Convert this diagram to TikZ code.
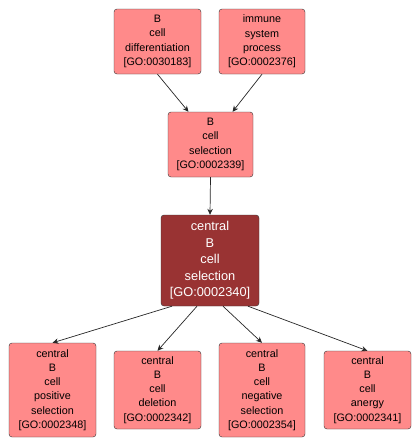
\documentclass[tikz,border=0pt]{standalone}
\usepackage{fontspec}
\setmainfont{Liberation Sans}
\usetikzlibrary{arrows.meta}

\definecolor{termfill}{HTML}{FF8A8A}
\definecolor{focusfill}{HTML}{993333}

\tikzset{
	gonode/.style={draw=black!80, fill=termfill, rounded corners=3pt, align=center, inner sep=0pt,
		font=\fontsize{10.8}{14.2}\selectfont},
	focusnode/.style={gonode, fill=focusfill, text=white, font=\fontsize{12.8}{16.5}\selectfont},
	isa/.style={draw=black!85, line width=0.7pt, -{Stealth[length=6pt, width=5.5pt, inset=2pt]}}
}

\begin{document}
\begin{tikzpicture}[x=1pt, y=-1pt]
	\useasboundingbox (0,0) rectangle (420,448);
	% parent terms (top row)
	\node[gonode, minimum width=87pt, minimum height=65pt] (bdiff) at (157.5,41.5) {B\\cell\\differentiation\\{[GO:0030183]}};
	\node[gonode, minimum width=86pt, minimum height=65pt] (immune) at (262,41.5) {immune\\system\\process\\{[GO:0002376]}};
	% B cell selection
	\node[gonode, minimum width=85pt, minimum height=65pt] (bsel) at (210.5,144.5) {B\\cell\\selection\\{[GO:0002339]}};
	% focus term
	\node[focusnode, minimum width=98pt, minimum height=91pt] (central) at (210,260.5) {central\\B\\cell\\selection\\{[GO:0002340]}};
	% child terms (bottom row)
	\node[gonode, minimum width=87pt, minimum height=94pt] (pos) at (52.5,390) {central\\B\\cell\\positive\\selection\\{[GO:0002348]}};
	\node[gonode, minimum width=87pt, minimum height=78pt] (del) at (157.5,390) {central\\B\\cell\\deletion\\{[GO:0002342]}};
	\node[gonode, minimum width=86pt, minimum height=94pt] (neg) at (262,390) {central\\B\\cell\\negative\\selection\\{[GO:0002354]}};
	\node[gonode, minimum width=87pt, minimum height=78pt] (anergy) at (367.5,390) {central\\B\\cell\\anergy\\{[GO:0002341]}};
	% is-a edges
	\draw[isa] (bdiff.south) -- ([xshift=-22pt]bsel.north);
	\draw[isa] (immune.south) -- ([xshift=22pt]bsel.north);
	\draw[isa] (bsel.south) -- (central.north);
	\draw[isa] ([xshift=-38pt]central.south) -- (pos.north);
	\draw[isa] ([xshift=-13pt]central.south) -- (del.north);
	\draw[isa] ([xshift=13pt]central.south) -- (neg.north);
	\draw[isa] ([xshift=38pt]central.south) -- (anergy.north);
\end{tikzpicture}
\end{document}
